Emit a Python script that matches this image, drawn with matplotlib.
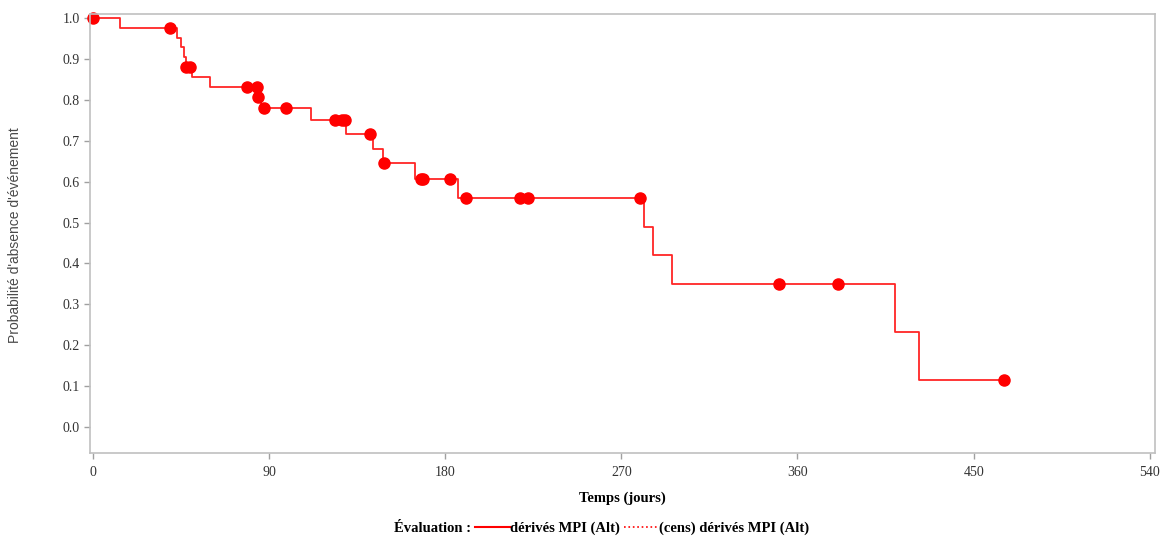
import matplotlib.pyplot as plt
from matplotlib.lines import Line2D

# Kaplan-Meier steps
event_days = [0, 14, 43, 45, 46.5, 47.5, 50.6, 59.8, 83.9, 86, 111.3, 129.4, 143.2,
              148.2, 164.7, 186.5, 281.8, 286, 296, 409.8, 422]
survival = [1.0, 0.976, 0.952, 0.928, 0.905, 0.881, 0.857, 0.832, 0.808, 0.779, 0.751,
            0.716, 0.679, 0.645, 0.606, 0.559, 0.490, 0.421, 0.350, 0.233, 0.115]
last_day = 465.5

# censored observations
cens_days = [0, 39.4, 47.6, 49.6, 78.6, 83.7, 84.4, 87.4, 98.7, 123.8, 127.2, 128.9,
             141.7, 148.5, 167.6, 168.8, 182.6, 190.6, 218.4, 222.5, 279.4, 350.6,
             380.6, 465.5]


def surv_at(t):
    s = survival[0]
    for d, v in zip(event_days, survival):
        if d <= t:
            s = v
    return s


cens_surv = [surv_at(t) for t in cens_days]

red = "#ff0000"
serif = "Liberation Serif"

fig = plt.figure(figsize=(11.63, 5.40), dpi=100)
ax = fig.add_axes([0.0774, 0.161, 0.9156, 0.813])

ax.step(event_days + [last_day], survival + [survival[-1]], where="post",
        color=red, linewidth=1.3, alpha=0.85)
ax.plot(cens_days, cens_surv, "o", color=red, markersize=8, linestyle="none",
        clip_on=False)

ax.set_xlim(-1.5, 542.6)
ax.set_ylim(-0.0636, 1.0098)
ax.set_xticks(range(0, 541, 90))
ax.set_yticks([i / 10 for i in range(11)])
ax.set_yticklabels([f"{i / 10:.1f}" for i in range(11)])

for s in ax.spines.values():
    s.set_color("#c0c0c0")
    s.set_linewidth(1.2)
ax.tick_params(colors="#a0a0a0", labelcolor="#333333", length=4, width=1)
for lab in ax.get_xticklabels() + ax.get_yticklabels():
    lab.set_fontfamily(serif)
    lab.set_fontsize(10)
ax.tick_params(axis="x", pad=5)

fig.text(0.535, 0.077, "Temps (jours)", ha="center", va="center",
         fontfamily=serif, fontweight="bold", fontsize=10.5)
fig.text(0.013, 0.565, "Probabilité d'absence d'événement", rotation=90,
         ha="center", va="center", fontsize=10, color="#4a4a4a",
         fontfamily="Liberation Sans")

fig.text(0.405, 0.022, "Évaluation :", ha="right", va="center",
         fontfamily=serif, fontweight="bold", fontsize=10.5)
handles = [Line2D([], [], color=red, linewidth=1.5),
           Line2D([], [], color=red, linewidth=1.2, linestyle=":")]
fig.legend(handles, ["dérivés MPI (Alt)", "(cens) dérivés MPI (Alt)"],
           loc="center left", bbox_to_anchor=(0.402, 0.022), ncol=2,
           frameon=False, handlelength=2.4, handletextpad=0.0,
           columnspacing=0.3, borderpad=0,
           prop={"family": serif, "weight": "bold", "size": 10.5})

fig.savefig("out.png", dpi=100)
